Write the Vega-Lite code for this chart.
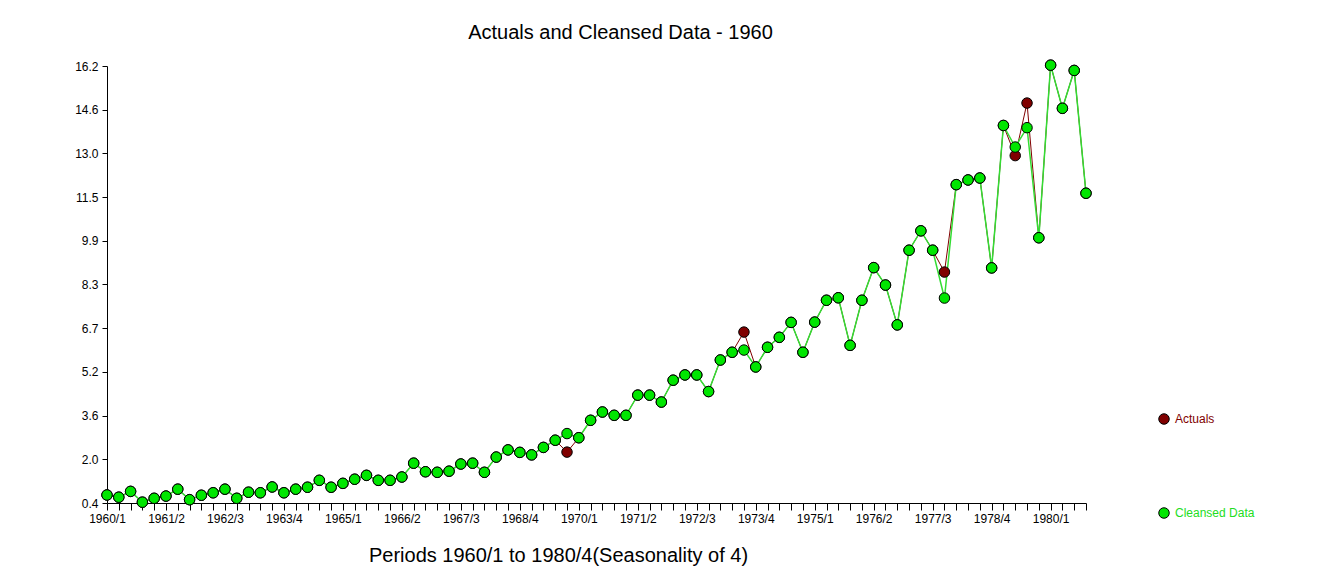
{
  "$schema": "https://vega.github.io/schema/vega-lite/v6.json",
  "autosize": {"type": "none"},
  "width": 979,
  "height": 437,
  "padding": {"left": 107, "top": 66, "right": 246, "bottom": 83},
  "background": "white",
  "config": {
    "view": {"stroke": null},
    "font": "Liberation Sans",
    "axis": {"domainColor": "black", "tickColor": "black", "labelColor": "black", "labelFont": "Liberation Sans", "labelFontSize": 12, "grid": false, "titleFont": "Liberation Sans", "titleFontWeight": "normal", "titleColor": "black"}
  },
  "title": {"text": "Actuals and Cleansed Data - 1960", "font": "Liberation Sans", "fontSize": 20, "fontWeight": "normal", "color": "black", "anchor": "middle", "dx": 24, "offset": 15},
  "data": {"values": [
    {"i":0,"period":"1960/1","Actuals":0.69,"Cleansed Data":0.69},
    {"i":1,"period":"1960/2","Actuals":0.61,"Cleansed Data":0.61},
    {"i":2,"period":"1960/3","Actuals":0.82,"Cleansed Data":0.82},
    {"i":3,"period":"1960/4","Actuals":0.43,"Cleansed Data":0.43},
    {"i":4,"period":"1961/1","Actuals":0.57,"Cleansed Data":0.57},
    {"i":5,"period":"1961/2","Actuals":0.65,"Cleansed Data":0.65},
    {"i":6,"period":"1961/3","Actuals":0.90,"Cleansed Data":0.90},
    {"i":7,"period":"1961/4","Actuals":0.52,"Cleansed Data":0.52},
    {"i":8,"period":"1962/1","Actuals":0.68,"Cleansed Data":0.68},
    {"i":9,"period":"1962/2","Actuals":0.77,"Cleansed Data":0.77},
    {"i":10,"period":"1962/3","Actuals":0.90,"Cleansed Data":0.90},
    {"i":11,"period":"1962/4","Actuals":0.57,"Cleansed Data":0.57},
    {"i":12,"period":"1963/1","Actuals":0.79,"Cleansed Data":0.79},
    {"i":13,"period":"1963/2","Actuals":0.77,"Cleansed Data":0.77},
    {"i":14,"period":"1963/3","Actuals":0.98,"Cleansed Data":0.98},
    {"i":15,"period":"1963/4","Actuals":0.77,"Cleansed Data":0.77},
    {"i":16,"period":"1964/1","Actuals":0.90,"Cleansed Data":0.90},
    {"i":17,"period":"1964/2","Actuals":0.97,"Cleansed Data":0.97},
    {"i":18,"period":"1964/3","Actuals":1.22,"Cleansed Data":1.22},
    {"i":19,"period":"1964/4","Actuals":0.97,"Cleansed Data":0.97},
    {"i":20,"period":"1965/1","Actuals":1.11,"Cleansed Data":1.11},
    {"i":21,"period":"1965/2","Actuals":1.26,"Cleansed Data":1.26},
    {"i":22,"period":"1965/3","Actuals":1.40,"Cleansed Data":1.40},
    {"i":23,"period":"1965/4","Actuals":1.22,"Cleansed Data":1.22},
    {"i":24,"period":"1966/1","Actuals":1.22,"Cleansed Data":1.22},
    {"i":25,"period":"1966/2","Actuals":1.34,"Cleansed Data":1.34},
    {"i":26,"period":"1966/3","Actuals":1.84,"Cleansed Data":1.84},
    {"i":27,"period":"1966/4","Actuals":1.53,"Cleansed Data":1.53},
    {"i":28,"period":"1967/1","Actuals":1.51,"Cleansed Data":1.51},
    {"i":29,"period":"1967/2","Actuals":1.55,"Cleansed Data":1.55},
    {"i":30,"period":"1967/3","Actuals":1.81,"Cleansed Data":1.81},
    {"i":31,"period":"1967/4","Actuals":1.84,"Cleansed Data":1.84},
    {"i":32,"period":"1968/1","Actuals":1.51,"Cleansed Data":1.51},
    {"i":33,"period":"1968/2","Actuals":2.06,"Cleansed Data":2.06},
    {"i":34,"period":"1968/3","Actuals":2.32,"Cleansed Data":2.32},
    {"i":35,"period":"1968/4","Actuals":2.23,"Cleansed Data":2.23},
    {"i":36,"period":"1969/1","Actuals":2.14,"Cleansed Data":2.14},
    {"i":37,"period":"1969/2","Actuals":2.41,"Cleansed Data":2.41},
    {"i":38,"period":"1969/3","Actuals":2.67,"Cleansed Data":2.67},
    {"i":39,"period":"1969/4","Actuals":2.24,"Cleansed Data":2.91},
    {"i":40,"period":"1970/1","Actuals":2.76,"Cleansed Data":2.76},
    {"i":41,"period":"1970/2","Actuals":3.39,"Cleansed Data":3.39},
    {"i":42,"period":"1970/3","Actuals":3.69,"Cleansed Data":3.69},
    {"i":43,"period":"1970/4","Actuals":3.57,"Cleansed Data":3.57},
    {"i":44,"period":"1971/1","Actuals":3.57,"Cleansed Data":3.57},
    {"i":45,"period":"1971/2","Actuals":4.30,"Cleansed Data":4.30},
    {"i":46,"period":"1971/3","Actuals":4.30,"Cleansed Data":4.30},
    {"i":47,"period":"1971/4","Actuals":4.05,"Cleansed Data":4.05},
    {"i":48,"period":"1972/1","Actuals":4.84,"Cleansed Data":4.84},
    {"i":49,"period":"1972/2","Actuals":5.03,"Cleansed Data":5.03},
    {"i":50,"period":"1972/3","Actuals":5.03,"Cleansed Data":5.03},
    {"i":51,"period":"1972/4","Actuals":4.43,"Cleansed Data":4.43},
    {"i":52,"period":"1973/1","Actuals":5.57,"Cleansed Data":5.57},
    {"i":53,"period":"1973/2","Actuals":5.85,"Cleansed Data":5.85},
    {"i":54,"period":"1973/3","Actuals":6.58,"Cleansed Data":5.93},
    {"i":55,"period":"1973/4","Actuals":5.32,"Cleansed Data":5.32},
    {"i":56,"period":"1974/1","Actuals":6.03,"Cleansed Data":6.03},
    {"i":57,"period":"1974/2","Actuals":6.39,"Cleansed Data":6.39},
    {"i":58,"period":"1974/3","Actuals":6.93,"Cleansed Data":6.93},
    {"i":59,"period":"1974/4","Actuals":5.85,"Cleansed Data":5.85},
    {"i":60,"period":"1975/1","Actuals":6.94,"Cleansed Data":6.94},
    {"i":61,"period":"1975/2","Actuals":7.73,"Cleansed Data":7.73},
    {"i":62,"period":"1975/3","Actuals":7.82,"Cleansed Data":7.82},
    {"i":63,"period":"1975/4","Actuals":6.10,"Cleansed Data":6.10},
    {"i":64,"period":"1976/1","Actuals":7.73,"Cleansed Data":7.73},
    {"i":65,"period":"1976/2","Actuals":8.91,"Cleansed Data":8.91},
    {"i":66,"period":"1976/3","Actuals":8.28,"Cleansed Data":8.28},
    {"i":67,"period":"1976/4","Actuals":6.84,"Cleansed Data":6.84},
    {"i":68,"period":"1977/1","Actuals":9.54,"Cleansed Data":9.54},
    {"i":69,"period":"1977/2","Actuals":10.24,"Cleansed Data":10.24},
    {"i":70,"period":"1977/3","Actuals":9.54,"Cleansed Data":9.54},
    {"i":71,"period":"1977/4","Actuals":8.75,"Cleansed Data":7.81},
    {"i":72,"period":"1978/1","Actuals":11.91,"Cleansed Data":11.91},
    {"i":73,"period":"1978/2","Actuals":12.08,"Cleansed Data":12.08},
    {"i":74,"period":"1978/3","Actuals":12.15,"Cleansed Data":12.15},
    {"i":75,"period":"1978/4","Actuals":8.90,"Cleansed Data":8.90},
    {"i":76,"period":"1979/1","Actuals":14.05,"Cleansed Data":14.05},
    {"i":77,"period":"1979/2","Actuals":12.96,"Cleansed Data":13.27},
    {"i":78,"period":"1979/3","Actuals":14.86,"Cleansed Data":13.97},
    {"i":79,"period":"1979/4","Actuals":9.99,"Cleansed Data":9.99},
    {"i":80,"period":"1980/1","Actuals":16.23,"Cleansed Data":16.23},
    {"i":81,"period":"1980/2","Actuals":14.67,"Cleansed Data":14.67},
    {"i":82,"period":"1980/3","Actuals":16.04,"Cleansed Data":16.04},
    {"i":83,"period":"1980/4","Actuals":11.60,"Cleansed Data":11.60}
  ]},
  "transform": [{"fold": ["Actuals", "Cleansed Data"], "as": ["series", "value"]}],
  "encoding": {
    "x": {"field": "i", "type": "quantitative",
      "scale": {"domain": [0, 83], "nice": false, "zero": false},
      "axis": {"values": [0,1,2,3,4,5,6,7,8,9,10,11,12,13,14,15,16,17,18,19,20,21,22,23,24,25,26,27,28,29,30,31,32,33,34,35,36,37,38,39,40,41,42,43,44,45,46,47,48,49,50,51,52,53,54,55,56,57,58,59,60,61,62,63,64,65,66,67,68,69,70,71,72,73,74,75,76,77,78,79,80,81,82,83],
        "labelExpr": "datum.value % 5 == 0 ? (1960 + floor(datum.value / 4)) + '/' + (datum.value % 4 + 1) : ''",
        "labelOverlap": false, "labelFlush": false, "tickSize": 7, "labelPadding": 3,
        "title": "Periods 1960/1 to 1980/4(Seasonality of 4)", "titleFontSize": 20, "titleX": 451, "titleY": 52, "titleBaseline": "middle", "titleAnchor": "middle", "titleAlign": "center"}},
    "y": {"field": "value", "type": "quantitative",
      "scale": {"domain": [0.4, 16.2], "nice": false, "zero": false},
      "axis": {"values": [0.4, 1.98, 3.56, 5.14, 6.72, 8.3, 9.88, 11.46, 13.04, 14.62, 16.2],
        "labelExpr": "['0.4','2.0','3.6','5.2','6.7','8.3','9.9','11.5','13.0','14.6','16.2'][round((datum.value - 0.4) / 1.58)]",
        "tickSize": 5, "labelPadding": 4, "title": null}}
  },
  "layer": [
    {"transform": [{"filter": "datum.series === 'Actuals'"}],
     "mark": {"type": "line", "strokeWidth": 1, "color": "#800000", "clip": false}},
    {"transform": [{"filter": "datum.series === 'Cleansed Data'"}],
     "mark": {"type": "line", "strokeWidth": 1.5, "color": "#33dd33", "clip": false}},
    {"mark": {"type": "point", "filled": true, "size": 110, "stroke": "black", "strokeWidth": 1, "opacity": 1, "clip": false},
     "encoding": {
      "color": {"field": "series", "type": "nominal",
        "scale": {"domain": ["Actuals", "Cleansed Data"], "range": ["#800000", "#00e600"]},
        "legend": {"title": null, "orient": "none", "legendX": 1051, "legendY": 347, "direction": "vertical",
          "symbolType": "circle", "symbolSize": 110, "symbolStrokeColor": "black", "symbolStrokeWidth": 1, "symbolOpacity": 1,
          "labelFont": "Liberation Sans", "labelFontSize": 12, "labelOffset": 5, "rowPadding": 78,
          "labelColor": {"expr": "datum.value === 'Actuals' ? '#800000' : '#22dd22'"}}}}}
  ]
}
